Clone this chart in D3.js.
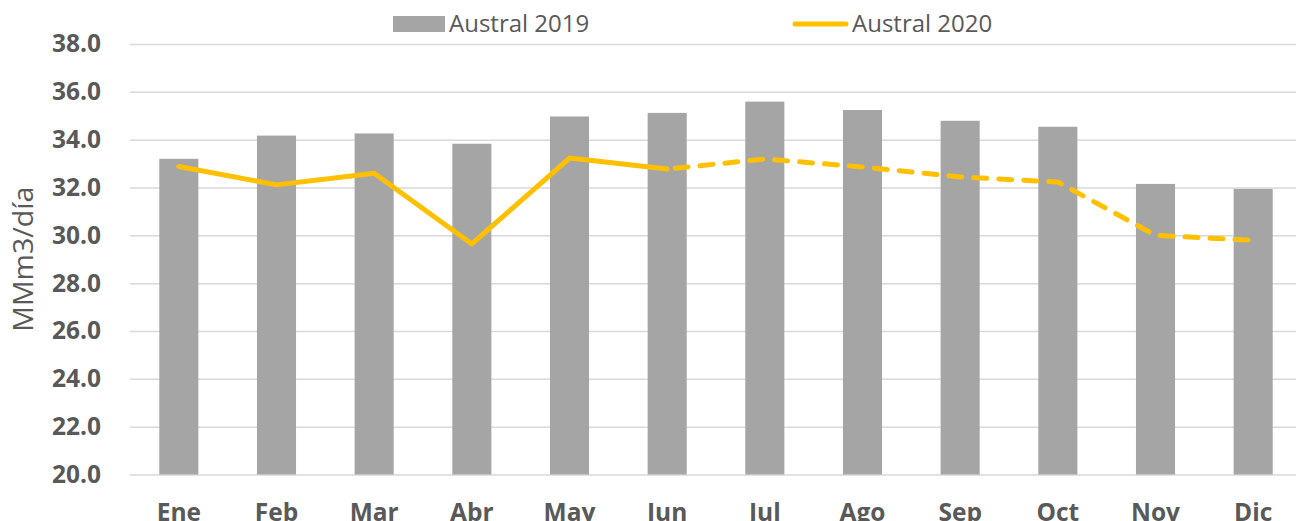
<!DOCTYPE html>
<html>
<head>
<meta charset="utf-8">
<script src="https://cdn.jsdelivr.net/npm/d3@7"></script>
<style>
    body { margin: 0; background: #fff; }
    text { font-family: "Open Sans", sans-serif; fill: #595959; }
</style>
</head>
<body>
<div id="chart-container"></div>
<script>
/*
    Austral 2019 vs Austral 2020, MMm3/día
 */

var months = ['Ene', 'Feb', 'Mar', 'Abr', 'May', 'Jun', 'Jul', 'Ago', 'Sep', 'Oct', 'Nov', 'Dic'];
var austral_2019 = [33.2, 34.17, 34.26, 33.83, 34.97, 35.12, 35.59, 35.24, 34.79, 34.54, 32.15, 31.94];
var austral_2020 = [32.88, 32.11, 32.6, 29.64, 33.23, 32.77, 33.19, 32.86, 32.44, 32.23, 30.0, 29.79];
// ultimo mes con dato real, despues proyeccion (punteada)
var last_real_month = 'Jun';
var y_ticks = [20, 22, 24, 26, 28, 30, 32, 34, 36, 38];
var legend_labels = ['Austral 2019', 'Austral 2020'];

var svg_size = {
    'width': 1296,
    'height': 521
};

var chart_option = {
    'left': 130,
    'right': 1302,
    'top': 44,
    'bottom': 474.5,
    'bar_color': '#a5a5a5',
    'line_color': '#ffc000',
    'grid_color': '#d9d9d9'
};

var svg = d3.select("#chart-container")
    .append("svg")
    .attr('width', svg_size.width)
    .attr('height', svg_size.height);

var x_scale = d3.scaleBand()
    .domain(months)
    .range([chart_option.left, chart_option.right])
    .paddingInner(0.6)
    .paddingOuter(0.3);

var y_scale = d3.scaleLinear()
    .domain([20, 38])
    .range([chart_option.bottom, chart_option.top]);

// y axis + grid
var y_axis = d3.axisLeft(y_scale)
    .tickValues(y_ticks)
    .tickFormat(d3.format('.1f'))
    .tickSizeInner(-(chart_option.right - chart_option.left))
    .tickSizeOuter(0)
    .tickPadding(29);

var y_axis_group = svg.append('g')
    .attr('transform', 'translate(' + chart_option.left + ',0)')
    .call(y_axis);

y_axis_group.select('.domain').remove();
y_axis_group.selectAll('.tick line')
    .attr('stroke', chart_option.grid_color)
    .attr('stroke-width', 1.5);
y_axis_group.selectAll('.tick text')
    .attr('fill', '#595959')
    .style('font-size', '24.5px')
    .style('font-weight', 'bold')
    .style('font-family', '"Open Sans", sans-serif');

// bars
svg.append('g')
    .selectAll('rect')
    .data(austral_2019)
    .enter()
    .append('rect')
    .attr('x', function(d, i){ return x_scale(months[i]); })
    .attr('y', function(d){ return y_scale(d); })
    .attr('width', x_scale.bandwidth())
    .attr('height', function(d){ return y_scale(20) - y_scale(d); })
    .style('fill', chart_option.bar_color);

// x axis
var x_axis = d3.axisBottom(x_scale)
    .tickSize(0)
    .tickPadding(29);

var x_axis_group = svg.append('g')
    .attr('transform', 'translate(0,' + chart_option.bottom + ')')
    .call(x_axis);

x_axis_group.select('.domain').remove();
x_axis_group.selectAll('.tick text')
    .attr('fill', '#595959')
    .style('font-size', '24.5px')
    .style('font-weight', 'bold')
    .style('font-family', '"Open Sans", sans-serif');

// line 2020
var line_points = austral_2020.map(function(d, i){
    return {'month': months[i], 'value': d};
});
var split_index = months.indexOf(last_real_month);

var line = d3.line()
    .x(function(d){ return x_scale(d.month) + x_scale.bandwidth()/2; })
    .y(function(d){ return y_scale(d.value); });

svg.append('path')
    .datum(line_points.slice(0, split_index + 1))
    .attr('d', line)
    .attr('fill', 'none')
    .attr('stroke', chart_option.line_color)
    .attr('stroke-width', 5)
    .attr('stroke-linejoin', 'round')
    .attr('stroke-linecap', 'round');

svg.append('path')
    .datum(line_points.slice(split_index))
    .attr('d', line)
    .attr('fill', 'none')
    .attr('stroke', chart_option.line_color)
    .attr('stroke-width', 5)
    .attr('stroke-dasharray', '13,12')
    .attr('stroke-dashoffset', -8)
    .attr('stroke-linejoin', 'round')
    .attr('stroke-linecap', 'round');

// y axis title
svg.append('text')
    .attr('transform', 'translate(33,' + ((chart_option.top + chart_option.bottom)/2) + ') rotate(-90)')
    .attr('text-anchor', 'middle')
    .attr('textLength', 145)
    .attr('lengthAdjust', 'spacingAndGlyphs')
    .style('font-size', '26.5px')
    .text('MMm3/día');

// legend
var legend = svg.append('g');

legend.append('rect')
    .attr('x', 393)
    .attr('y', 16)
    .attr('width', 52)
    .attr('height', 16)
    .style('fill', chart_option.bar_color);

legend.append('text')
    .attr('x', 449)
    .attr('y', 32)
    .style('font-size', '24px')
    .text(legend_labels[0]);

legend.append('line')
    .attr('x1', 795)
    .attr('x2', 846)
    .attr('y1', 24)
    .attr('y2', 24)
    .attr('stroke', chart_option.line_color)
    .attr('stroke-width', 5)
    .attr('stroke-linecap', 'round');

legend.append('text')
    .attr('x', 852)
    .attr('y', 32)
    .style('font-size', '24px')
    .text(legend_labels[1]);
</script>
</body>
</html>
